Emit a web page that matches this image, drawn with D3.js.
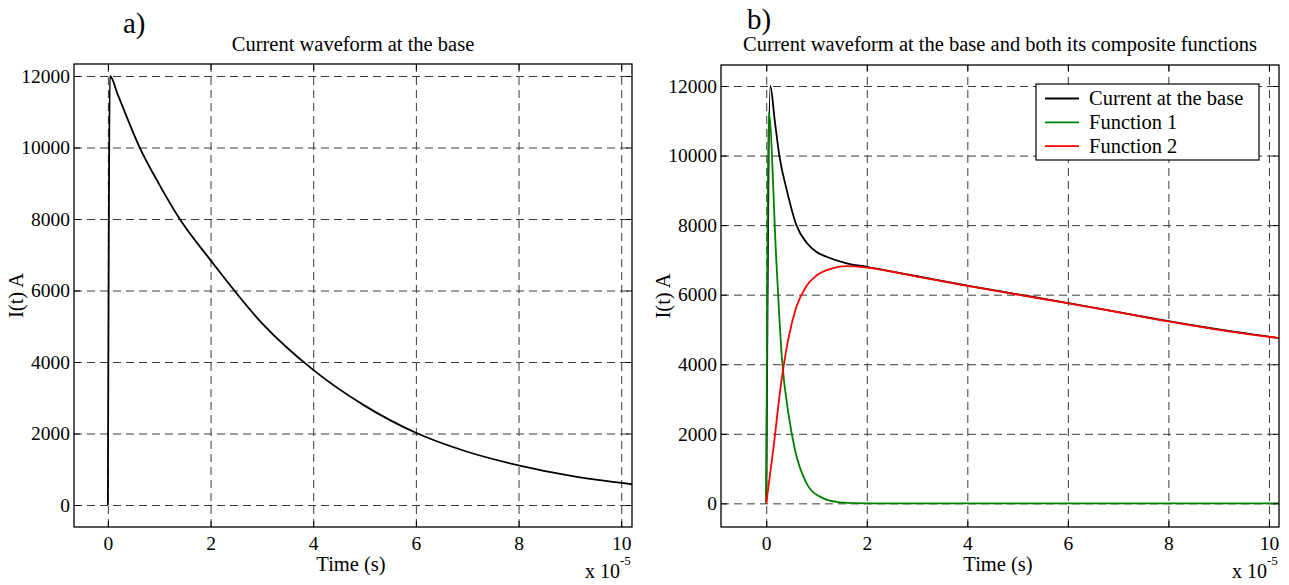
<!DOCTYPE html>
<html>
<head>
<meta charset="utf-8">
<script src="https://cdn.jsdelivr.net/npm/d3@7"></script>
<style>
  body { margin: 0; background: #fff; }
  text { font-family: "Liberation Serif", "Times New Roman", serif; fill: #000; }
</style>
</head>
<body>
<div id="container"></div>
<script>
// time is in units of 1e-5 s, current in A
var baseT = [0, 0.04, 0.2, 0.62, 1.0, 1.4, 2.0, 3.0, 4.0, 5.0, 6.0, 7.0, 8.0, 9.0, 10.21];
var baseI = [0, 12000, 11450, 10000, 8970, 8000, 6850, 5090, 3780, 2780, 2020, 1490, 1110, 820, 580];

var totalT = [0, 0.08, 0.17, 0.26, 0.41, 0.6, 0.8, 1.0, 1.2, 1.6, 2.0, 3.0, 4.0, 5.0, 6.0, 7.0, 8.0, 9.0, 10.2];
var totalI = [0, 12000, 11000, 10000, 9000, 8000, 7500, 7230, 7090, 6900, 6800, 6530, 6260, 6010, 5760, 5500, 5240, 5000, 4750];

var f1T = [0, 0.05, 0.2, 0.31, 0.45, 0.57, 0.8, 1.06, 1.46, 2.0, 10.2];
var f1I = [0, 11250, 7000, 4200, 2500, 1550, 580, 200, 30, 0, 0];

var f2T = [0, 0.14, 0.3, 0.45, 0.6, 0.8, 1.0, 1.3, 1.6, 2.0, 3.0, 4.0, 5.0, 6.0, 7.0, 8.0, 9.0, 10.2];
var f2I = [0, 1550, 3500, 4800, 5650, 6250, 6550, 6750, 6820, 6780, 6520, 6250, 6000, 5760, 5500, 5230, 4990, 4750];

var xTicks = [0, 2, 4, 6, 8, 10];
var yTicks = [0, 2000, 4000, 6000, 8000, 10000, 12000];
var legendLabels = ["Current at the base", "Function 1", "Function 2"];

var W = 1289, H = 585;

var svg = d3.select("#container").append("svg")
    .attr("width", W)
    .attr("height", H);

function zip(t, v) { return t.map(function(d, k) { return [d, v[k]]; }); }

function drawPanel(p) {
    var w = p.right - p.left, h = p.bottom - p.top;

    var x = d3.scaleLinear().domain(p.xDomain).range([p.left, p.right]);
    var y = d3.scaleLinear().domain(p.yDomain).range([p.bottom, p.top]);

    var g = svg.append("g");

    // dashed grid
    var gx = g.append("g")
        .attr("transform", "translate(0," + p.bottom + ")")
        .call(d3.axisBottom(x).tickValues(xTicks).tickSize(-h).tickFormat(""));
    var gy = g.append("g")
        .attr("transform", "translate(" + p.left + ",0)")
        .call(d3.axisLeft(y).tickValues(yTicks).tickSize(-w).tickFormat(""));
    [gx, gy].forEach(function(a) {
        a.select(".domain").remove();
        a.selectAll("line")
            .attr("stroke", "#3a3a3a")
            .attr("stroke-width", 1)
            .attr("stroke-dasharray", "8,5");
    });

    // curves
    var clipId = "clip" + p.id;
    svg.append("clipPath").attr("id", clipId)
        .append("rect")
        .attr("x", p.left).attr("y", p.top)
        .attr("width", w).attr("height", h);

    var line = d3.line()
        .x(function(d) { return x(d[0]); })
        .y(function(d) { return y(d[1]); })
        .curve(d3.curveMonotoneX);

    p.series.forEach(function(s) {
        g.append("path")
            .datum(zip(s.t, s.v))
            .attr("clip-path", "url(#" + clipId + ")")
            .attr("d", line)
            .attr("fill", "none")
            .attr("stroke", s.color)
            .attr("stroke-width", 1.8)
            .attr("stroke-linejoin", "round");
    });

    // axes with inward ticks
    var bottomAx = g.append("g")
        .attr("transform", "translate(0," + p.bottom + ")")
        .call(d3.axisBottom(x).tickValues(xTicks).tickSizeInner(-6).tickSizeOuter(0).tickPadding(9));
    var leftAx = g.append("g")
        .attr("transform", "translate(" + p.left + ",0)")
        .call(d3.axisLeft(y).tickValues(yTicks).tickSizeInner(-6).tickSizeOuter(0).tickPadding(4)
            .tickFormat(d3.format("d")));
    var topAx = g.append("g")
        .attr("transform", "translate(0," + p.top + ")")
        .call(d3.axisTop(x).tickValues(xTicks).tickSizeInner(-6).tickSizeOuter(0).tickFormat(""));
    var rightAx = g.append("g")
        .attr("transform", "translate(" + p.right + ",0)")
        .call(d3.axisRight(y).tickValues(yTicks).tickSizeInner(-6).tickSizeOuter(0).tickFormat(""));

    [bottomAx, leftAx, topAx, rightAx].forEach(function(a) {
        a.select(".domain").remove();
        a.attr("font-family", null).attr("font-size", null);
        a.selectAll("line").attr("stroke", "#000");
        a.selectAll("text")
            .style("font-family", "'Liberation Serif', 'Times New Roman', serif")
            .style("font-size", "19.5px")
            .attr("fill", "#000");
    });

    // box
    g.append("rect")
        .attr("x", p.left).attr("y", p.top)
        .attr("width", w).attr("height", h)
        .attr("fill", "none")
        .attr("stroke", "#000")
        .attr("stroke-width", 1.3);

    // texts
    g.append("text")
        .attr("x", p.letterX).attr("y", p.letterY)
        .style("font-size", "29px")
        .text(p.letter);

    g.append("text")
        .attr("x", (p.left + p.right) / 2).attr("y", 51)
        .attr("text-anchor", "middle")
        .style("font-size", "20.5px")
        .text(p.title);

    g.append("text")
        .attr("x", (p.left + p.right) / 2 - 2).attr("y", 571)
        .attr("text-anchor", "middle")
        .style("font-size", "20.5px")
        .text("Time (s)");

    g.append("text")
        .attr("transform", "translate(" + p.yLabelX + "," + ((p.top + p.bottom) / 2) + ") rotate(-90)")
        .attr("text-anchor", "middle")
        .style("font-size", "20.5px")
        .text("I(t) A");

    var mult = g.append("text")
        .attr("x", p.right - 47).attr("y", 578)
        .style("font-size", "20px");
    mult.append("tspan").text("x 10");
    mult.append("tspan").attr("dy", -13).style("font-size", "13px").text("-5");

    if (p.legend) {
        var lg = g.append("g");
        lg.append("rect")
            .attr("x", 1036).attr("y", 84)
            .attr("width", 223).attr("height", 76)
            .attr("fill", "#fff")
            .attr("stroke", "#000")
            .attr("stroke-width", 1.2);
        p.series.forEach(function(s, k) {
            var yy = 98.5 + k * 23.8;
            lg.append("line")
                .attr("x1", 1045).attr("x2", 1079)
                .attr("y1", yy).attr("y2", yy)
                .attr("stroke", s.color)
                .attr("stroke-width", 1.8);
            lg.append("text")
                .attr("x", 1089).attr("y", yy)
                .attr("dy", "0.33em")
                .style("font-size", "20.5px")
                .text(legendLabels[k]);
        });
    }
}

drawPanel({
    id: "a",
    left: 74, right: 632, top: 64, bottom: 527,
    xDomain: [-0.66, 10.21],
    yDomain: [-615, 12336],
    letter: "a)", letterX: 123, letterY: 33,
    title: "Current waveform at the base",
    yLabelX: 23,
    series: [{ t: baseT, v: baseI, color: "#000" }],
    legend: false
});

drawPanel({
    id: "b",
    left: 721, right: 1279, top: 65, bottom: 527,
    xDomain: [-0.9, 10.2],
    yDomain: [-680, 12604],
    letter: "b)", letterX: 747, letterY: 29,
    title: "Current waveform at the base and both its composite functions",
    yLabelX: 670,
    series: [
        { t: totalT, v: totalI, color: "#000" },
        { t: f1T, v: f1I, color: "#008000" },
        { t: f2T, v: f2I, color: "#ff0000" }
    ],
    legend: true
});
</script>
</body>
</html>
